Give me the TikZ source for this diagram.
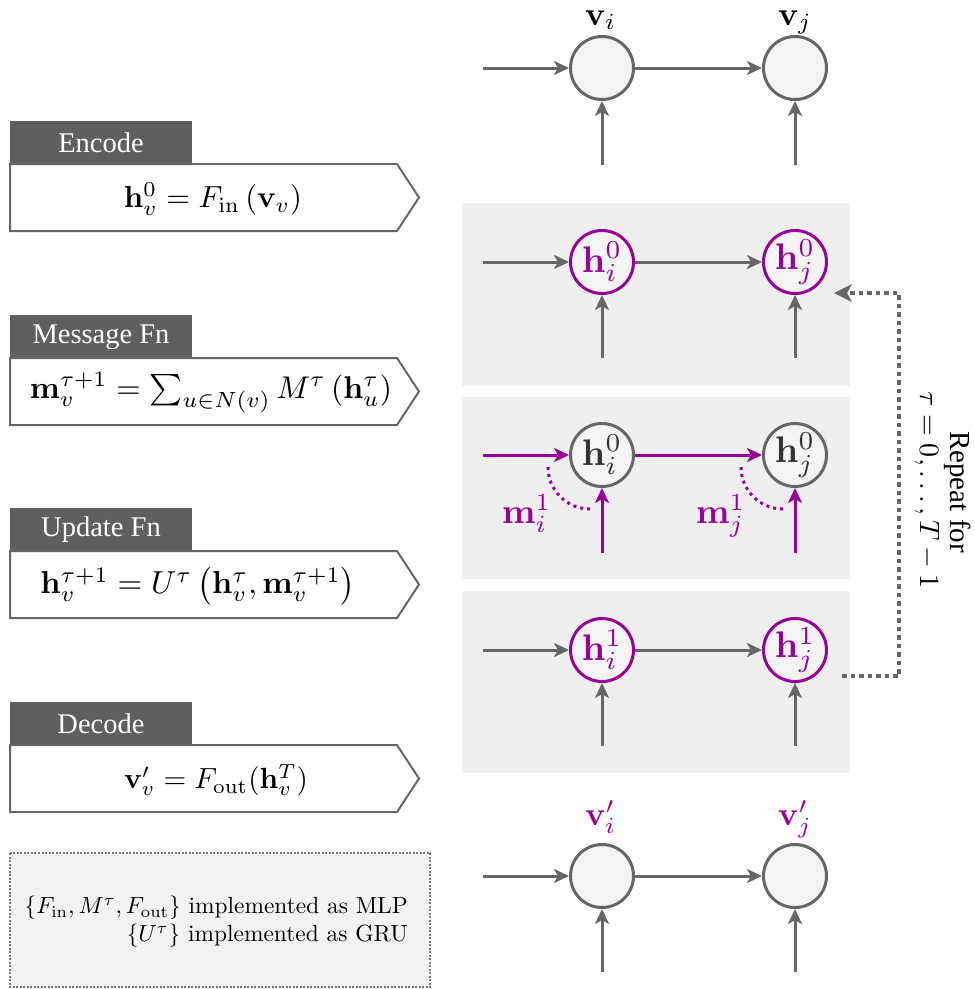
\RequirePackage{fix-cm}
\documentclass[tikz,border=0pt]{standalone}
\usepackage{graphicx}
\usepackage{amsmath}
\usepackage[no-math]{fontspec}
\newfontfamily\tnr{Liberation Serif}
\usetikzlibrary{arrows.meta}
\definecolor{hdr}{HTML}{5F5F5F}
\definecolor{lgray}{HTML}{666666}
\definecolor{nfill}{HTML}{F4F4F4}
\definecolor{panel}{HTML}{EFEFEF}
\definecolor{purp}{HTML}{990099}
\definecolor{notefill}{HTML}{F3F3F3}
\newcommand\fnbox[6]{%
  \fill[hdr] (10,#2) rectangle (192,#2+43);
  \node[hdrtext] (#1h) at (101,#2+22) {#3};
  \draw[bodybox] (10,#2+43) -- (397,#2+43) -- (419,#2+76.5) -- (397,#2+110) -- (10,#2+110) -- cycle;
  \node[inner sep=0] (#1f) at (#5,#2+78) {\resizebox{#6pt}{!}{#4}};
}
\newcommand\sm[2]{\scalebox{#1}{#2}}
\begin{document}
\begin{tikzpicture}[x=1pt,y=-1pt,
  hdrtext/.style={text=white,font=\tnr\fontsize{28.5}{32}\selectfont,inner sep=0},
  bodybox/.style={draw=lgray,line width=2pt,fill=white,line join=miter},
  nd/.style={circle,draw=lgray,line width=3pt,fill=nfill,minimum size=63pt,inner sep=0,text=black!80},
  pnd/.style={nd,draw=purp,text=purp},
  arr/.style={draw=lgray,line width=3pt,-{Stealth[length=15pt,width=14pt,inset=4pt]}},
  parr/.style={arr,draw=purp,-{Stealth[length=15pt,width=14pt,inset=4pt,fill=purp]}},
  lbl/.style={inner sep=0,anchor=base west},
  plbl/.style={lbl,text=purp},
  rep/.style={draw=lgray,line width=4.5pt,dash pattern=on 4.5pt off 4pt},
  arcst/.style={draw=purp,line width=3pt,dash pattern=on 3pt off 4pt}
]
\useasboundingbox (0,0) rectangle (975,989);

% left function boxes
\fnbox{enc}{121}{Encode}{$\mathbf{h}_v^0=F_{\mathrm{in}}\left(\mathbf{v}_v\right)$}{213}{178}
\fnbox{msg}{315}{Message Fn}{$\mathbf{m}_v^{\tau+1}=\sum_{u\in N(v)}M^{\tau}\left(\mathbf{h}_u^{\tau}\right)$}{211}{362}
\fnbox{upd}{508}{Update Fn}{$\mathbf{h}_v^{\tau+1}=U^{\tau}\left(\mathbf{h}_v^{\tau},\mathbf{m}_v^{\tau+1}\right)$}{198}{315}
\fnbox{dec}{702}{Decode}{$\mathbf{v}'_v=F_{\mathrm{out}}(\mathbf{h}_v^{T})$}{216}{184}

% note box
\draw[draw=lgray!90,fill=notefill,line width=1.5pt,dash pattern=on 2pt off 1.5pt] (10,853) rectangle (430,987);
\node[anchor=east,inner sep=0] (note) at (408,922)
  {\sm{2.34}{\begin{tabular}{@{}r@{}}$\{F_{\mathrm{in}},M^{\tau},F_{\mathrm{out}}\}$ implemented as MLP\\$\{U^{\tau}\}$ implemented as GRU\end{tabular}}};

% panels
\fill[panel] (462,203) rectangle (850,386);
\fill[panel] (462,397) rectangle (850,579);
\fill[panel] (462,591) rectangle (850,773);

% row 1
\node[nd] (a1) at (602,68) {};
\node[nd] (b1) at (795,68) {};
\node[lbl] (la1) at (585,25) {\sm{3.3}{$\mathbf{v}_i$}};
\node[lbl] (lb1) at (778,25) {\sm{3.3}{$\mathbf{v}_j$}};
\coordinate (s1) at (483,68);
\coordinate (ua1) at (602,165);
\coordinate (ub1) at (795,165);
\draw[arr] (s1) -- (a1);
\draw[arr] (a1) -- (b1);
\draw[arr] (ua1) -- (a1);
\draw[arr] (ub1) -- (b1);

% row 2
\node[pnd] (a2) at (602,262) {\sm{3.7}{$\mathbf{h}_i^0$}};
\node[pnd] (b2) at (795,262) {\sm{3.7}{$\mathbf{h}_j^0$}};
\coordinate (s2) at (483,262);
\coordinate (ua2) at (602,358);
\coordinate (ub2) at (795,358);
\draw[arr] (s2) -- (a2);
\draw[arr] (a2) -- (b2);
\draw[arr] (ua2) -- (a2);
\draw[arr] (ub2) -- (b2);

% row 3
\node[nd,text=black!80] (a3) at (602,455) {\sm{3.7}{$\mathbf{h}_i^0$}};
\node[nd,text=black!80] (b3) at (795,455) {\sm{3.7}{$\mathbf{h}_j^0$}};
\coordinate (s3) at (483,455);
\coordinate (ua3) at (602,553);
\coordinate (ub3) at (795,553);
\draw[parr] (s3) -- (a3);
\draw[parr] (a3) -- (b3);
\draw[parr] (ua3) -- (a3);
\draw[parr] (ub3) -- (b3);
\draw[arcst] (548,467) arc[start angle=180,end angle=90,radius=42];
\draw[arcst] (741,467) arc[start angle=180,end angle=90,radius=42];
\node[plbl] (mi) at (502,523) {\sm{3.5}{$\mathbf{m}_i^1$}};
\node[plbl] (mj) at (696,523) {\sm{3.5}{$\mathbf{m}_j^1$}};

% row 4
\node[pnd] (a4) at (602,650) {\sm{3.7}{$\mathbf{h}_i^1$}};
\node[pnd] (b4) at (795,650) {\sm{3.7}{$\mathbf{h}_j^1$}};
\coordinate (s4) at (483,650);
\coordinate (ua4) at (602,746);
\coordinate (ub4) at (795,746);
\draw[arr] (s4) -- (a4);
\draw[arr] (a4) -- (b4);
\draw[arr] (ua4) -- (a4);
\draw[arr] (ub4) -- (b4);

% row 5
\node[nd] (a5) at (602,876) {};
\node[nd] (b5) at (795,876) {};
\node[plbl] (la5) at (585,825) {\sm{3.3}{$\mathbf{v}'_i$}};
\node[plbl] (lb5) at (778,825) {\sm{3.3}{$\mathbf{v}'_j$}};
\coordinate (s5) at (483,876);
\coordinate (ua5) at (602,972);
\coordinate (ub5) at (795,972);
\draw[arr] (s5) -- (a5);
\draw[arr] (a5) -- (b5);
\draw[arr] (ua5) -- (a5);
\draw[arr] (ub5) -- (b5);

% repeat loop
\coordinate (r0) at (842,676);
\coordinate (r1) at (899,676);
\coordinate (r2) at (899,293);
\coordinate (r3) at (834,293);
\draw[rep] (r0) -- (r1) -- (r2) -- (847,293);
\fill[lgray] (r3) -- ++(18,-9) -- ++(-5,9) -- ++(5,9) -- cycle;
\node[rotate=-90,inner sep=0] (reptext1) at (958,492) {\tnr\fontsize{29}{33}\selectfont Repeat for};
\node[rotate=-90,inner sep=0] (reptext2) at (927,490) {\sm{2.8}{$\tau=0,\ldots,T-1$}};
\end{tikzpicture}
\end{document}
